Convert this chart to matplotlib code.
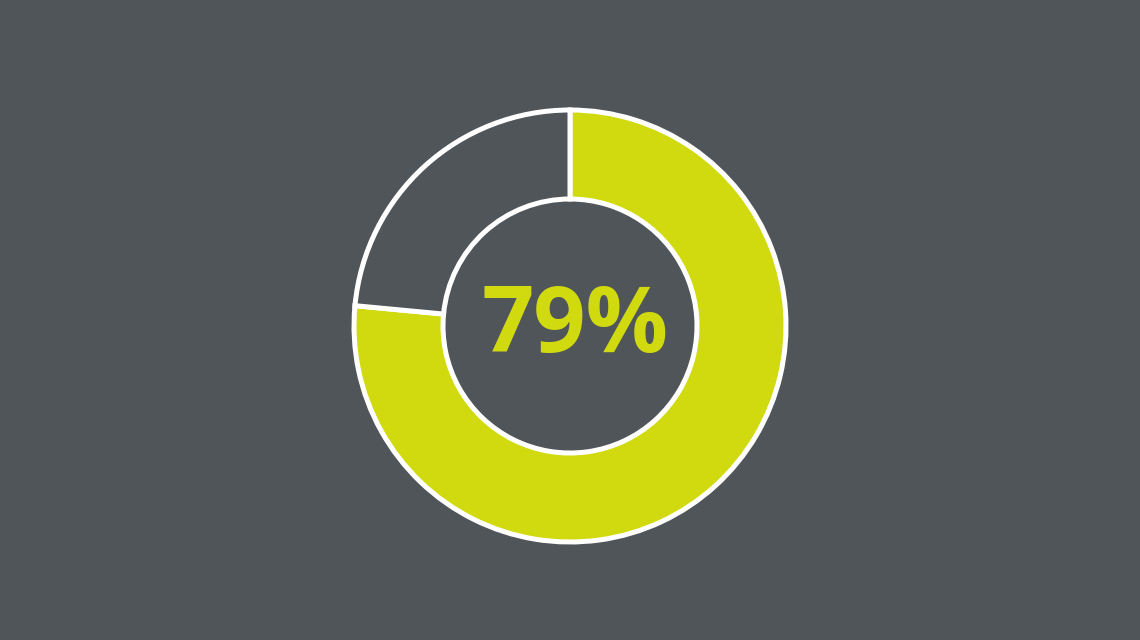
import matplotlib.pyplot as plt

# share of the ring drawn in colour vs. remainder
labels = ['yes', 'rest']
shares = [76.5, 23.5]
center_label = '79%'

BG = '#4f5559'
LIME = '#d1da0e'

fig = plt.figure(figsize=(11.4, 6.4), dpi=100)
fig.patch.set_facecolor(BG)
ax = fig.add_axes([0, 0, 1, 1])
ax.set_facecolor(BG)

outer_r = 216
inner_r = 127
ax.pie(shares, colors=[LIME, BG], startangle=90, counterclock=False,
       center=(570, 314), radius=outer_r, frame=True,
       wedgeprops=dict(width=outer_r - inner_r, edgecolor='white', linewidth=3.6))
ax.set_xlim(0, 1140)
ax.set_ylim(0, 640)
ax.set_aspect('equal')
ax.axis('off')

ax.text(575, 312, center_label, ha='center', va='center', fontsize=66,
        fontweight='bold', color=LIME, family=['Open Sans', 'DejaVu Sans'])

plt.savefig('out.png', dpi=100, facecolor=BG)
